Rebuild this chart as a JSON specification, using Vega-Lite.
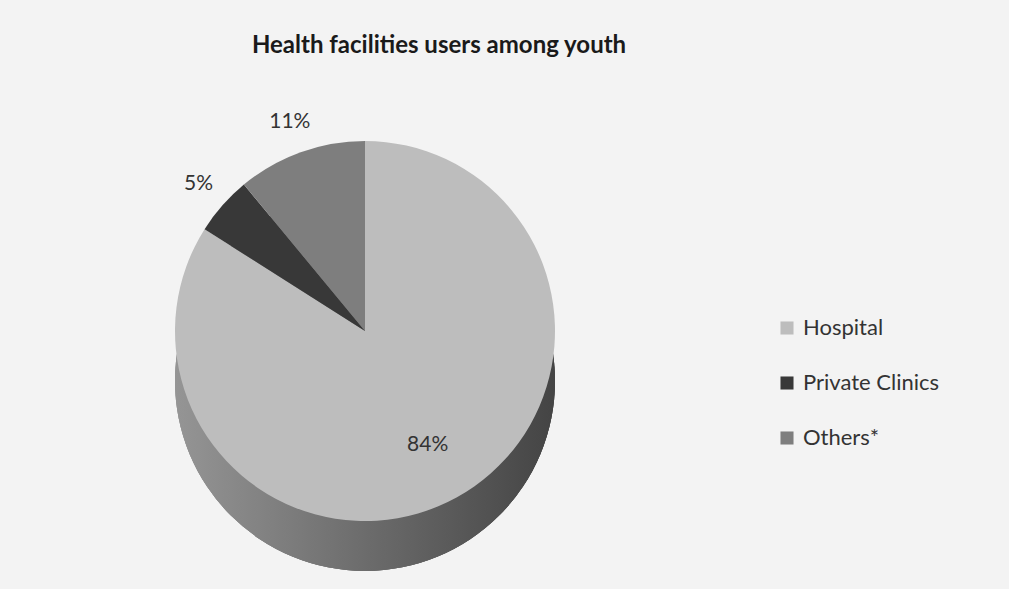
{
  "$schema": "https://vega.github.io/schema/vega-lite/v6.json",
  "background": "#f3f3f3",
  "padding": {"left": 13, "top": 34, "right": 69, "bottom": 0},
  "width": 704,
  "height": 518,
  "title": {
    "text": "Health facilities users  among youth",
    "font": "Lato",
    "fontSize": 24,
    "fontWeight": "bold",
    "color": "#1a1a1a",
    "dx": 74,
    "offset": 14
  },
  "data": {
    "values": [
      {"facility": "Hospital", "share": 84, "label": "84%", "rank": 1},
      {"facility": "Private Clinics", "share": 5, "label": "5%", "rank": 2},
      {"facility": "Others*", "share": 11, "label": "11%", "rank": 3}
    ]
  },
  "layer": [
    {
      "mark": {
        "type": "arc",
        "radius": 190,
        "yOffset": 50,
        "color": {
          "gradient": "linear",
          "x1": 0, "y1": 0, "x2": 1, "y2": 0,
          "stops": [
            {"offset": 0, "color": "#959595"},
            {"offset": 0.5, "color": "#6c6c6c"},
            {"offset": 1, "color": "#444444"}
          ]
        }
      },
      "encoding": {}
    },
    {
      "mark": {"type": "arc", "radius": 190},
      "encoding": {
        "theta": {"field": "share", "type": "quantitative", "stack": true},
        "order": {"field": "rank", "type": "quantitative"},
        "color": {
          "field": "facility",
          "type": "nominal",
          "sort": ["Hospital", "Private Clinics", "Others*"],
          "scale": {
            "domain": ["Hospital", "Private Clinics", "Others*"],
            "range": ["#bdbdbd", "#383838", "#7e7e7e"]
          },
          "legend": {
            "title": null,
            "orient": "none",
            "legendX": 763,
            "legendY": 245,
            "symbolType": "square",
            "symbolSize": 170,
            "symbolStrokeWidth": 0,
            "labelFont": "Lato",
            "labelFontSize": 22,
            "labelColor": "#333333",
            "rowPadding": 33,
            "labelOffset": 5,
            "labelLimit": 300
          }
        }
      }
    },
    {
      "mark": {"type": "text", "radius": 222, "font": "Lato", "fontSize": 21, "color": "#333333"},
      "encoding": {
        "theta": {"field": "share", "type": "quantitative", "stack": true},
        "order": {"field": "rank", "type": "quantitative"},
        "text": {"condition": {"test": "datum.facility != 'Hospital'", "field": "label"}, "value": ""}
      }
    },
    {
      "mark": {"type": "text", "radius": 130, "font": "Lato", "fontSize": 21, "color": "#333333"},
      "encoding": {
        "theta": {"field": "share", "type": "quantitative", "stack": true},
        "order": {"field": "rank", "type": "quantitative"},
        "text": {"condition": {"test": "datum.facility == 'Hospital'", "field": "label"}, "value": ""}
      }
    }
  ]
}
